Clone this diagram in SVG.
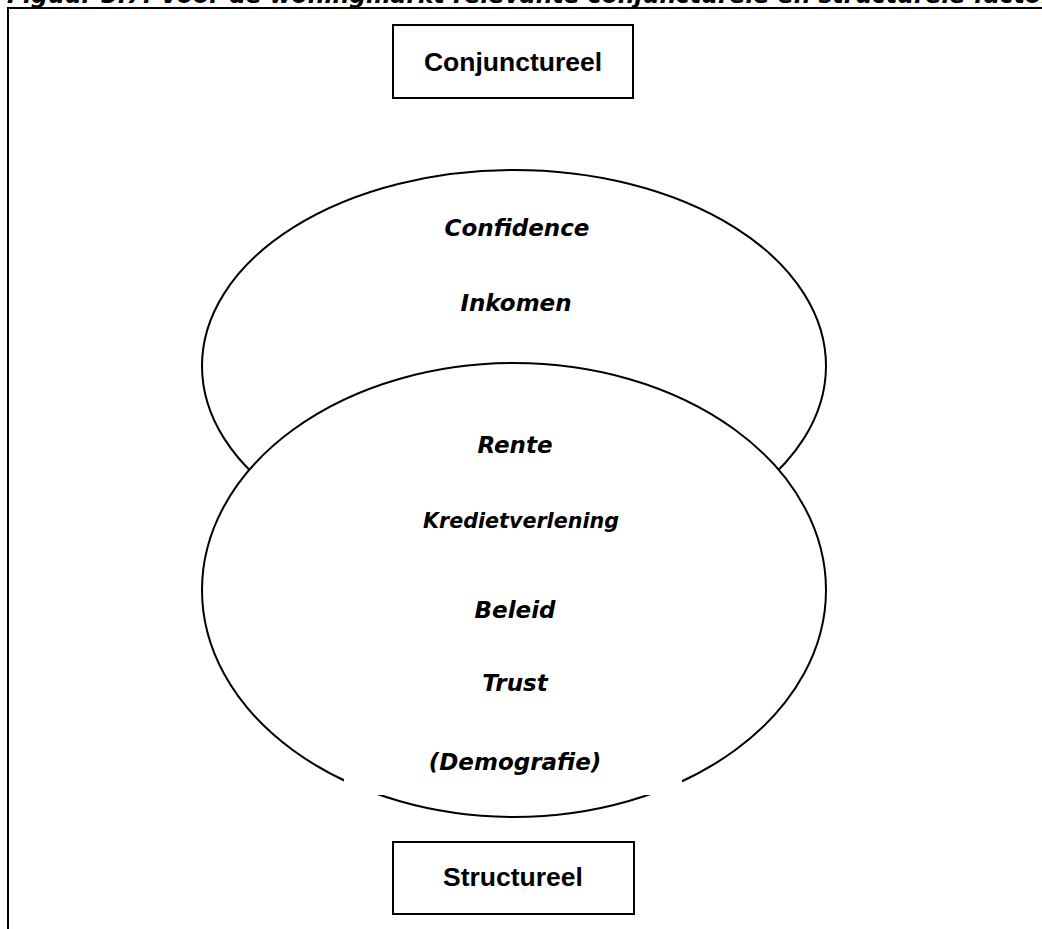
<svg xmlns="http://www.w3.org/2000/svg" width="1042" height="929" viewBox="0 0 1042 929">
<style>
.title{font-family:"DejaVu Sans",Verdana,sans-serif;font-weight:bold;font-style:italic;font-size:23.5px;fill:#000}
.lbl{font-family:"DejaVu Sans",Verdana,sans-serif;font-weight:bold;font-style:italic;font-size:23px;fill:#000;text-anchor:middle}
.box{fill:#fff;stroke:#000;stroke-width:2}
.boxtxt{font-family:"Liberation Sans",Arial,sans-serif;font-weight:bold;font-size:26.5px;fill:#000;text-anchor:middle}
.ell{fill:#fff;stroke:#000;stroke-width:2}
</style>
<rect width="1042" height="929" fill="#fff"/>
<text class="title" x="7" y="3">Figuur 3.7: Voor de woningmarkt relevante conjuncturele en structurele factoren</text>
<rect x="8" y="8" width="1060" height="940" fill="none" stroke="#000" stroke-width="2"/>
<g id="conjunctureel">
<rect class="box" x="393" y="25" width="240" height="73"/>
<text class="boxtxt" x="513" y="71">Conjunctureel</text>
</g>
<g id="ellips-boven">
<ellipse class="ell" cx="514" cy="366" rx="312" ry="196"/>
</g>
<g id="ellips-onder">
<ellipse class="ell" cx="514" cy="590" rx="312" ry="227"/>
<rect x="344" y="735" width="338" height="60" fill="#fff"/>
</g>
<g id="labels">
<text class="lbl" x="517" y="236">Confidence</text>
<text class="lbl" x="516" y="311">Inkomen</text>
<text class="lbl" x="515" y="453">Rente</text>
<text class="lbl" x="521" y="528" style="font-size:22px" textLength="196" lengthAdjust="spacingAndGlyphs">Kredietverlening</text>
<text class="lbl" x="515" y="618">Beleid</text>
<text class="lbl" x="515" y="691">Trust</text>
<text class="lbl" x="515" y="770">(Demografie)</text>
</g>
<g id="structureel">
<rect class="box" x="393" y="842" width="241" height="72"/>
<text class="boxtxt" x="513" y="886">Structureel</text>
</g>
<g id="connectors"></g>
</svg>
